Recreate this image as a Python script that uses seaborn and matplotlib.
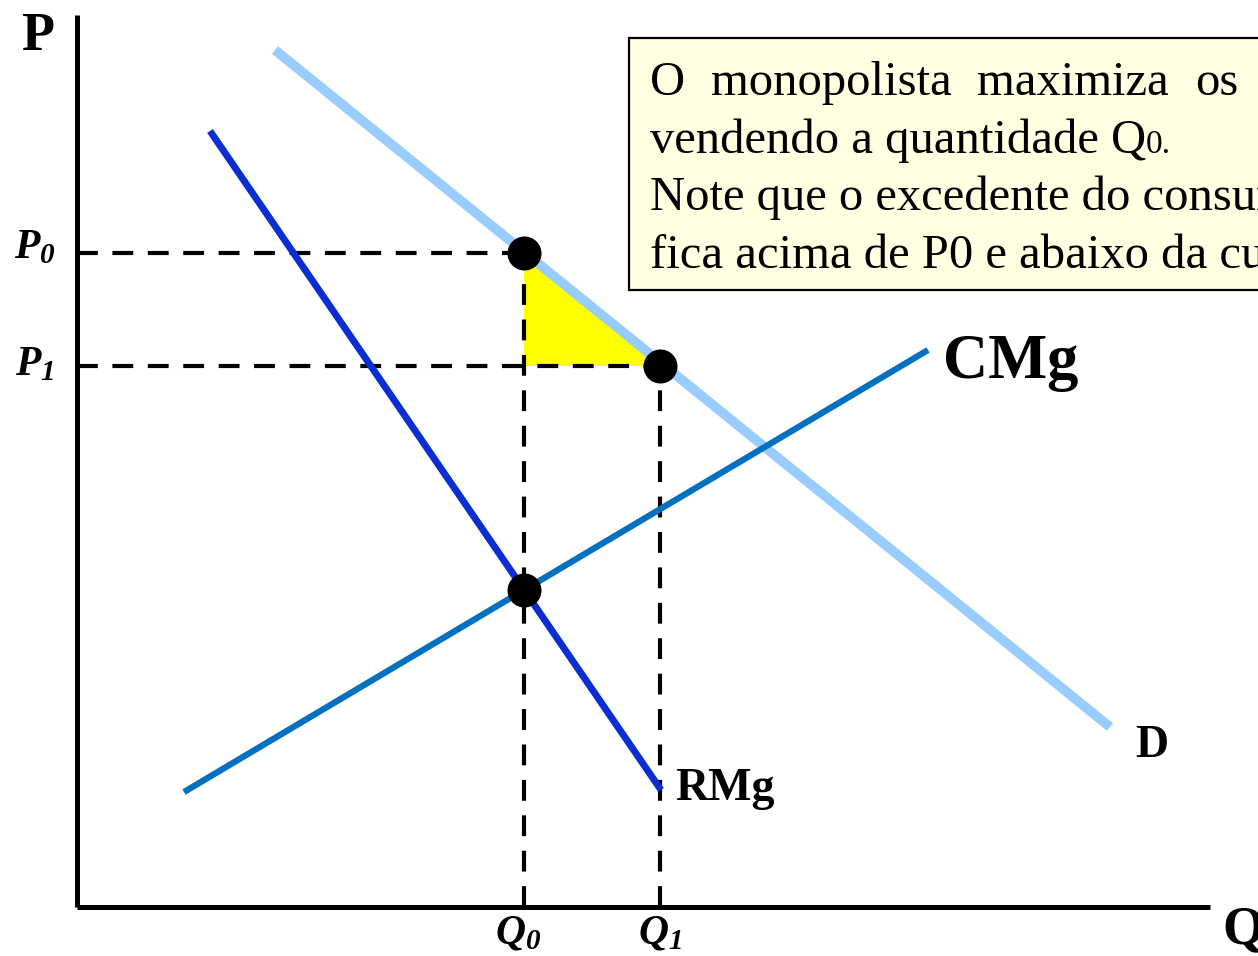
import matplotlib
matplotlib.use("Agg")
import matplotlib.pyplot as plt
import seaborn as sns
import pandas as pd
from matplotlib.patches import Rectangle, Polygon

# Curve end points (quantity, price)
demand_q = [1.98, 10.33]
demand_p = [8.57, 1.80]
rmg_q = [1.33, 5.84]
rmg_p = [7.76, 1.17]
cmg_q = [1.07, 8.51]
cmg_p = [1.15, 5.57]

# Key quantities and prices
q0, q1 = 4.47, 5.83
p0, p1 = 6.54, 5.41
p_mc = 3.17

# Points marked on the diagram
dot_q = [q0, q1, q0]
dot_p = [p0, p1, p_mc]

axis_q_max = 11.33
axis_p_max = 8.92

box_lines = [
    "vendendo a quantidade Q",
    "Note que o excedente do consumidor",
    "fica acima de P0 e abaixo da curva de demanda.",
]
box_first_line = ["O", "monopolista", "maximiza", "os"]

sns.set_theme(style="white")
plt.rcParams["font.family"] = ["Liberation Serif", "DejaVu Serif"]
plt.rcParams["text.color"] = "black"
plt.rcParams["mathtext.fontset"] = "custom"
plt.rcParams["mathtext.it"] = "Liberation Serif:bold:italic"
plt.rcParams["mathtext.rm"] = "Liberation Serif:bold:italic"
plt.rcParams["mathtext.bf"] = "Liberation Serif:bold"

fig = plt.figure(figsize=(12.58, 9.56), dpi=100)
ax = fig.add_axes([0, 0, 1, 1])
ax.set_xlim(-0.77, 11.81)
ax.set_ylim(-0.49, 9.07)
ax.axis("off")

# Consumer surplus triangle
ax.add_patch(Polygon([(q0, p0), (q0, p1), (q1, p1)], closed=True,
                     facecolor="#FFFF00", edgecolor="none", zorder=1))

# Dashed guides
dash = (0, (5, 3.5))
for q, p in [(q0, p0), (q1, p1)]:
    ax.plot([0, q], [p, p], color="black", lw=3, linestyle=dash, zorder=2)
    ax.plot([q, q], [0, p], color="black", lw=3, linestyle=dash, zorder=2)

df_d = pd.DataFrame({"Q": demand_q, "P": demand_p})
df_r = pd.DataFrame({"Q": rmg_q, "P": rmg_p})
df_c = pd.DataFrame({"Q": cmg_q, "P": cmg_p})
sns.lineplot(data=df_d, x="Q", y="P", ax=ax, color="#99CCFF", lw=7,
             sort=False, solid_capstyle="butt", zorder=3)
sns.lineplot(data=df_c, x="Q", y="P", ax=ax, color="#0070C0", lw=4.5,
             sort=False, solid_capstyle="butt", zorder=3)
sns.lineplot(data=df_r, x="Q", y="P", ax=ax, color="#0A2ED4", lw=5,
             sort=False, solid_capstyle="butt", zorder=3)

sns.scatterplot(x=dot_q, y=dot_p, ax=ax, color="black", s=600,
                edgecolor="black", linewidth=0, zorder=5)

# Axes
ax.plot([0, 0], [0, axis_p_max], color="black", lw=3.6, solid_capstyle="butt", zorder=4)
ax.plot([0, axis_q_max], [0, 0], color="black", lw=3.6, solid_capstyle="butt", zorder=4)

ax.text(-0.39, 8.57, "P", fontsize=39, fontweight="bold", ha="center", va="baseline")
ax.text(11.45, -0.36, "Q", fontsize=39, fontweight="bold", ha="left", va="baseline")
ax.text(-0.42, 6.49, r"$P_0$", fontsize=30, ha="center", va="baseline")
ax.text(-0.42, 5.32, r"$P_1$", fontsize=30, ha="center", va="baseline")
ax.text(q0 - 0.06, -0.36, r"$Q_0$", fontsize=30, ha="center", va="baseline")
ax.text(q1, -0.36, r"$Q_1$", fontsize=30, ha="center", va="baseline")

ax.text(8.66, 5.29, "CMg", fontsize=45, fontweight="bold", ha="left", va="baseline")
ax.text(10.58, 1.50, "D", fontsize=33, fontweight="bold", ha="left", va="baseline")
ax.text(5.98, 1.07, "RMg", fontsize=33, fontweight="bold", ha="left", va="baseline")

# Annotation box
ax.add_patch(Rectangle((5.52, 6.17), 8.0, 2.52, facecolor="#FFFFE1",
                       edgecolor="black", lw=1.6, zorder=6))
word_x = [5.73, 6.34, 9.00, 11.18]
base_y = [8.12, 7.54, 6.97, 6.39]
fs_box = 35
for w, x in zip(box_first_line, word_x):
    ax.text(x, base_y[0], w, fontsize=fs_box, ha="left", va="baseline", zorder=7, clip_on=True)
t2 = ax.text(5.73, base_y[1], box_lines[0], fontsize=fs_box, ha="left", va="baseline",
             zorder=7, clip_on=True)
ax.text(5.73, base_y[2], box_lines[1], fontsize=fs_box, ha="left", va="baseline",
        zorder=7, clip_on=True)
ax.text(5.73, base_y[3], box_lines[2], fontsize=fs_box, ha="left", va="baseline",
        zorder=7, clip_on=True)

fig.canvas.draw()
bb = t2.get_window_extent()
x_end = ax.transData.inverted().transform((bb.x1, bb.y0))[0]
ax.text(x_end, base_y[1], "0.", fontsize=24, ha="left", va="baseline", zorder=7, clip_on=True)

fig.savefig("out.png", dpi=100)
